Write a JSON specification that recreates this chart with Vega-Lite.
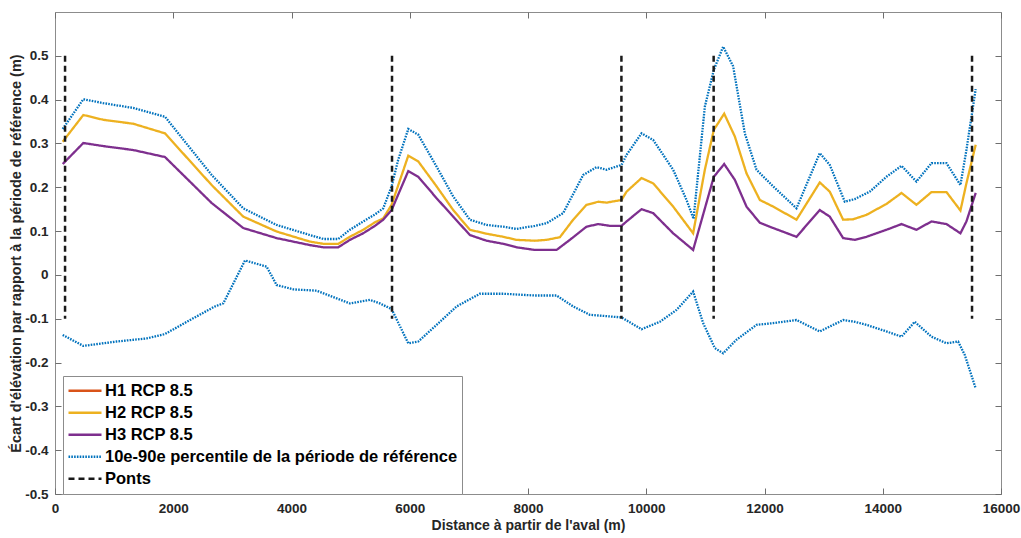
{
  "$schema": "https://vega.github.io/schema/vega-lite/v6.json",
  "autosize": {"type": "none"},
  "width": 946,
  "height": 482,
  "padding": {"left": 55, "top": 12, "right": 20, "bottom": 44},
  "background": "white",
  "config": {
    "view": {"stroke": "#8c8c8c", "strokeWidth": 1},
    "font": "Liberation Sans",
    "axis": {
      "grid": false,
      "domain": false,
      "tickColor": "#6e6e6e",
      "tickSize": -6,
      "tickWidth": 1,
      "labelFont": "Liberation Sans",
      "labelFontWeight": "bold",
      "labelFontSize": 13.5,
      "labelColor": "#262626",
      "titleFont": "Liberation Sans",
      "titleFontWeight": "bold",
      "titleColor": "#262626"
    }
  },
  "datasets": {
    "courbes": [
      {"serie": "H2 RCP 8.5", "groupe": "H2", "distance": 130, "ecart": 0.304},
      {"serie": "H2 RCP 8.5", "groupe": "H2", "distance": 479, "ecart": 0.365},
      {"serie": "H2 RCP 8.5", "groupe": "H2", "distance": 817, "ecart": 0.354},
      {"serie": "H2 RCP 8.5", "groupe": "H2", "distance": 1324, "ecart": 0.345},
      {"serie": "H2 RCP 8.5", "groupe": "H2", "distance": 1860, "ecart": 0.323},
      {"serie": "H2 RCP 8.5", "groupe": "H2", "distance": 2650, "ecart": 0.205},
      {"serie": "H2 RCP 8.5", "groupe": "H2", "distance": 3184, "ecart": 0.133},
      {"serie": "H2 RCP 8.5", "groupe": "H2", "distance": 3748, "ecart": 0.099},
      {"serie": "H2 RCP 8.5", "groupe": "H2", "distance": 4312, "ecart": 0.076},
      {"serie": "H2 RCP 8.5", "groupe": "H2", "distance": 4537, "ecart": 0.071},
      {"serie": "H2 RCP 8.5", "groupe": "H2", "distance": 4791, "ecart": 0.071},
      {"serie": "H2 RCP 8.5", "groupe": "H2", "distance": 4988, "ecart": 0.087},
      {"serie": "H2 RCP 8.5", "groupe": "H2", "distance": 5213, "ecart": 0.103},
      {"serie": "H2 RCP 8.5", "groupe": "H2", "distance": 5411, "ecart": 0.12},
      {"serie": "H2 RCP 8.5", "groupe": "H2", "distance": 5552, "ecart": 0.129},
      {"serie": "H2 RCP 8.5", "groupe": "H2", "distance": 5693, "ecart": 0.16},
      {"serie": "H2 RCP 8.5", "groupe": "H2", "distance": 5975, "ecart": 0.272},
      {"serie": "H2 RCP 8.5", "groupe": "H2", "distance": 6144, "ecart": 0.259},
      {"serie": "H2 RCP 8.5", "groupe": "H2", "distance": 6454, "ecart": 0.202},
      {"serie": "H2 RCP 8.5", "groupe": "H2", "distance": 6735, "ecart": 0.148},
      {"serie": "H2 RCP 8.5", "groupe": "H2", "distance": 7017, "ecart": 0.103},
      {"serie": "H2 RCP 8.5", "groupe": "H2", "distance": 7299, "ecart": 0.094},
      {"serie": "H2 RCP 8.5", "groupe": "H2", "distance": 7581, "ecart": 0.087},
      {"serie": "H2 RCP 8.5", "groupe": "H2", "distance": 7806, "ecart": 0.08},
      {"serie": "H2 RCP 8.5", "groupe": "H2", "distance": 8116, "ecart": 0.078},
      {"serie": "H2 RCP 8.5", "groupe": "H2", "distance": 8314, "ecart": 0.08},
      {"serie": "H2 RCP 8.5", "groupe": "H2", "distance": 8539, "ecart": 0.086},
      {"serie": "H2 RCP 8.5", "groupe": "H2", "distance": 8764, "ecart": 0.126},
      {"serie": "H2 RCP 8.5", "groupe": "H2", "distance": 8989, "ecart": 0.16},
      {"serie": "H2 RCP 8.5", "groupe": "H2", "distance": 9188, "ecart": 0.167},
      {"serie": "H2 RCP 8.5", "groupe": "H2", "distance": 9329, "ecart": 0.165},
      {"serie": "H2 RCP 8.5", "groupe": "H2", "distance": 9582, "ecart": 0.171},
      {"serie": "H2 RCP 8.5", "groupe": "H2", "distance": 9667, "ecart": 0.19},
      {"serie": "H2 RCP 8.5", "groupe": "H2", "distance": 9920, "ecart": 0.221},
      {"serie": "H2 RCP 8.5", "groupe": "H2", "distance": 10117, "ecart": 0.209},
      {"serie": "H2 RCP 8.5", "groupe": "H2", "distance": 10455, "ecart": 0.156},
      {"serie": "H2 RCP 8.5", "groupe": "H2", "distance": 10793, "ecart": 0.095},
      {"serie": "H2 RCP 8.5", "groupe": "H2", "distance": 10991, "ecart": 0.24},
      {"serie": "H2 RCP 8.5", "groupe": "H2", "distance": 11143, "ecart": 0.331},
      {"serie": "H2 RCP 8.5", "groupe": "H2", "distance": 11318, "ecart": 0.368},
      {"serie": "H2 RCP 8.5", "groupe": "H2", "distance": 11498, "ecart": 0.316},
      {"serie": "H2 RCP 8.5", "groupe": "H2", "distance": 11695, "ecart": 0.232},
      {"serie": "H2 RCP 8.5", "groupe": "H2", "distance": 11921, "ecart": 0.171},
      {"serie": "H2 RCP 8.5", "groupe": "H2", "distance": 12146, "ecart": 0.156},
      {"serie": "H2 RCP 8.5", "groupe": "H2", "distance": 12541, "ecart": 0.126},
      {"serie": "H2 RCP 8.5", "groupe": "H2", "distance": 12935, "ecart": 0.211},
      {"serie": "H2 RCP 8.5", "groupe": "H2", "distance": 13104, "ecart": 0.19},
      {"serie": "H2 RCP 8.5", "groupe": "H2", "distance": 13330, "ecart": 0.126},
      {"serie": "H2 RCP 8.5", "groupe": "H2", "distance": 13500, "ecart": 0.127},
      {"serie": "H2 RCP 8.5", "groupe": "H2", "distance": 13724, "ecart": 0.137},
      {"serie": "H2 RCP 8.5", "groupe": "H2", "distance": 14063, "ecart": 0.162},
      {"serie": "H2 RCP 8.5", "groupe": "H2", "distance": 14317, "ecart": 0.187},
      {"serie": "H2 RCP 8.5", "groupe": "H2", "distance": 14570, "ecart": 0.16},
      {"serie": "H2 RCP 8.5", "groupe": "H2", "distance": 14824, "ecart": 0.189},
      {"serie": "H2 RCP 8.5", "groupe": "H2", "distance": 15078, "ecart": 0.189},
      {"serie": "H2 RCP 8.5", "groupe": "H2", "distance": 15314, "ecart": 0.147},
      {"serie": "H2 RCP 8.5", "groupe": "H2", "distance": 15415, "ecart": 0.209},
      {"serie": "H2 RCP 8.5", "groupe": "H2", "distance": 15572, "ecart": 0.297},

      {"serie": "H3 RCP 8.5", "groupe": "H3", "distance": 130, "ecart": 0.253},
      {"serie": "H3 RCP 8.5", "groupe": "H3", "distance": 479, "ecart": 0.301},
      {"serie": "H3 RCP 8.5", "groupe": "H3", "distance": 817, "ecart": 0.294},
      {"serie": "H3 RCP 8.5", "groupe": "H3", "distance": 1324, "ecart": 0.285},
      {"serie": "H3 RCP 8.5", "groupe": "H3", "distance": 1860, "ecart": 0.269},
      {"serie": "H3 RCP 8.5", "groupe": "H3", "distance": 2650, "ecart": 0.164},
      {"serie": "H3 RCP 8.5", "groupe": "H3", "distance": 3184, "ecart": 0.107},
      {"serie": "H3 RCP 8.5", "groupe": "H3", "distance": 3748, "ecart": 0.084},
      {"serie": "H3 RCP 8.5", "groupe": "H3", "distance": 4312, "ecart": 0.068},
      {"serie": "H3 RCP 8.5", "groupe": "H3", "distance": 4537, "ecart": 0.063},
      {"serie": "H3 RCP 8.5", "groupe": "H3", "distance": 4791, "ecart": 0.063},
      {"serie": "H3 RCP 8.5", "groupe": "H3", "distance": 4988, "ecart": 0.08},
      {"serie": "H3 RCP 8.5", "groupe": "H3", "distance": 5213, "ecart": 0.095},
      {"serie": "H3 RCP 8.5", "groupe": "H3", "distance": 5411, "ecart": 0.112},
      {"serie": "H3 RCP 8.5", "groupe": "H3", "distance": 5552, "ecart": 0.126},
      {"serie": "H3 RCP 8.5", "groupe": "H3", "distance": 5693, "ecart": 0.148},
      {"serie": "H3 RCP 8.5", "groupe": "H3", "distance": 5975, "ecart": 0.237},
      {"serie": "H3 RCP 8.5", "groupe": "H3", "distance": 6144, "ecart": 0.224},
      {"serie": "H3 RCP 8.5", "groupe": "H3", "distance": 6454, "ecart": 0.175},
      {"serie": "H3 RCP 8.5", "groupe": "H3", "distance": 6735, "ecart": 0.133},
      {"serie": "H3 RCP 8.5", "groupe": "H3", "distance": 7017, "ecart": 0.091},
      {"serie": "H3 RCP 8.5", "groupe": "H3", "distance": 7299, "ecart": 0.078},
      {"serie": "H3 RCP 8.5", "groupe": "H3", "distance": 7581, "ecart": 0.071},
      {"serie": "H3 RCP 8.5", "groupe": "H3", "distance": 7806, "ecart": 0.063},
      {"serie": "H3 RCP 8.5", "groupe": "H3", "distance": 8116, "ecart": 0.057},
      {"serie": "H3 RCP 8.5", "groupe": "H3", "distance": 8483, "ecart": 0.057},
      {"serie": "H3 RCP 8.5", "groupe": "H3", "distance": 8708, "ecart": 0.08},
      {"serie": "H3 RCP 8.5", "groupe": "H3", "distance": 8989, "ecart": 0.11},
      {"serie": "H3 RCP 8.5", "groupe": "H3", "distance": 9188, "ecart": 0.116},
      {"serie": "H3 RCP 8.5", "groupe": "H3", "distance": 9385, "ecart": 0.112},
      {"serie": "H3 RCP 8.5", "groupe": "H3", "distance": 9582, "ecart": 0.112},
      {"serie": "H3 RCP 8.5", "groupe": "H3", "distance": 9667, "ecart": 0.122},
      {"serie": "H3 RCP 8.5", "groupe": "H3", "distance": 9920, "ecart": 0.15},
      {"serie": "H3 RCP 8.5", "groupe": "H3", "distance": 10117, "ecart": 0.141},
      {"serie": "H3 RCP 8.5", "groupe": "H3", "distance": 10455, "ecart": 0.095},
      {"serie": "H3 RCP 8.5", "groupe": "H3", "distance": 10793, "ecart": 0.057},
      {"serie": "H3 RCP 8.5", "groupe": "H3", "distance": 11143, "ecart": 0.224},
      {"serie": "H3 RCP 8.5", "groupe": "H3", "distance": 11318, "ecart": 0.253},
      {"serie": "H3 RCP 8.5", "groupe": "H3", "distance": 11498, "ecart": 0.217},
      {"serie": "H3 RCP 8.5", "groupe": "H3", "distance": 11695, "ecart": 0.156},
      {"serie": "H3 RCP 8.5", "groupe": "H3", "distance": 11921, "ecart": 0.119},
      {"serie": "H3 RCP 8.5", "groupe": "H3", "distance": 12146, "ecart": 0.107},
      {"serie": "H3 RCP 8.5", "groupe": "H3", "distance": 12541, "ecart": 0.087},
      {"serie": "H3 RCP 8.5", "groupe": "H3", "distance": 12935, "ecart": 0.148},
      {"serie": "H3 RCP 8.5", "groupe": "H3", "distance": 13104, "ecart": 0.133},
      {"serie": "H3 RCP 8.5", "groupe": "H3", "distance": 13330, "ecart": 0.084},
      {"serie": "H3 RCP 8.5", "groupe": "H3", "distance": 13527, "ecart": 0.08},
      {"serie": "H3 RCP 8.5", "groupe": "H3", "distance": 13724, "ecart": 0.087},
      {"serie": "H3 RCP 8.5", "groupe": "H3", "distance": 14063, "ecart": 0.103},
      {"serie": "H3 RCP 8.5", "groupe": "H3", "distance": 14317, "ecart": 0.116},
      {"serie": "H3 RCP 8.5", "groupe": "H3", "distance": 14570, "ecart": 0.103},
      {"serie": "H3 RCP 8.5", "groupe": "H3", "distance": 14824, "ecart": 0.122},
      {"serie": "H3 RCP 8.5", "groupe": "H3", "distance": 15078, "ecart": 0.116},
      {"serie": "H3 RCP 8.5", "groupe": "H3", "distance": 15314, "ecart": 0.095},
      {"serie": "H3 RCP 8.5", "groupe": "H3", "distance": 15415, "ecart": 0.122},
      {"serie": "H3 RCP 8.5", "groupe": "H3", "distance": 15572, "ecart": 0.187},

      {"serie": "10e-90e percentile de la période de référence", "groupe": "P90", "distance": 130, "ecart": 0.333},
      {"serie": "10e-90e percentile de la période de référence", "groupe": "P90", "distance": 479, "ecart": 0.401},
      {"serie": "10e-90e percentile de la période de référence", "groupe": "P90", "distance": 817, "ecart": 0.392},
      {"serie": "10e-90e percentile de la période de référence", "groupe": "P90", "distance": 1324, "ecart": 0.381},
      {"serie": "10e-90e percentile de la période de référence", "groupe": "P90", "distance": 1860, "ecart": 0.361},
      {"serie": "10e-90e percentile de la période de référence", "groupe": "P90", "distance": 2650, "ecart": 0.228},
      {"serie": "10e-90e percentile de la période de référence", "groupe": "P90", "distance": 3184, "ecart": 0.152},
      {"serie": "10e-90e percentile de la période de référence", "groupe": "P90", "distance": 3748, "ecart": 0.114},
      {"serie": "10e-90e percentile de la période de référence", "groupe": "P90", "distance": 4312, "ecart": 0.091},
      {"serie": "10e-90e percentile de la période de référence", "groupe": "P90", "distance": 4537, "ecart": 0.082},
      {"serie": "10e-90e percentile de la période de référence", "groupe": "P90", "distance": 4791, "ecart": 0.082},
      {"serie": "10e-90e percentile de la période de référence", "groupe": "P90", "distance": 4988, "ecart": 0.103},
      {"serie": "10e-90e percentile de la période de référence", "groupe": "P90", "distance": 5213, "ecart": 0.122},
      {"serie": "10e-90e percentile de la période de référence", "groupe": "P90", "distance": 5411, "ecart": 0.138},
      {"serie": "10e-90e percentile de la période de référence", "groupe": "P90", "distance": 5552, "ecart": 0.152},
      {"serie": "10e-90e percentile de la période de référence", "groupe": "P90", "distance": 5693, "ecart": 0.202},
      {"serie": "10e-90e percentile de la période de référence", "groupe": "P90", "distance": 5805, "ecart": 0.263},
      {"serie": "10e-90e percentile de la période de référence", "groupe": "P90", "distance": 5975, "ecart": 0.333},
      {"serie": "10e-90e percentile de la période de référence", "groupe": "P90", "distance": 6144, "ecart": 0.32},
      {"serie": "10e-90e percentile de la période de référence", "groupe": "P90", "distance": 6454, "ecart": 0.247},
      {"serie": "10e-90e percentile de la période de référence", "groupe": "P90", "distance": 6735, "ecart": 0.179},
      {"serie": "10e-90e percentile de la période de référence", "groupe": "P90", "distance": 7017, "ecart": 0.126},
      {"serie": "10e-90e percentile de la période de référence", "groupe": "P90", "distance": 7299, "ecart": 0.114},
      {"serie": "10e-90e percentile de la période de référence", "groupe": "P90", "distance": 7581, "ecart": 0.11},
      {"serie": "10e-90e percentile de la période de référence", "groupe": "P90", "distance": 7806, "ecart": 0.105},
      {"serie": "10e-90e percentile de la période de référence", "groupe": "P90", "distance": 8116, "ecart": 0.112},
      {"serie": "10e-90e percentile de la période de référence", "groupe": "P90", "distance": 8314, "ecart": 0.118},
      {"serie": "10e-90e percentile de la période de référence", "groupe": "P90", "distance": 8595, "ecart": 0.141},
      {"serie": "10e-90e percentile de la période de référence", "groupe": "P90", "distance": 8933, "ecart": 0.228},
      {"serie": "10e-90e percentile de la période de référence", "groupe": "P90", "distance": 9160, "ecart": 0.246},
      {"serie": "10e-90e percentile de la période de référence", "groupe": "P90", "distance": 9329, "ecart": 0.24},
      {"serie": "10e-90e percentile de la période de référence", "groupe": "P90", "distance": 9582, "ecart": 0.251},
      {"serie": "10e-90e percentile de la période de référence", "groupe": "P90", "distance": 9667, "ecart": 0.274},
      {"serie": "10e-90e percentile de la période de référence", "groupe": "P90", "distance": 9920, "ecart": 0.323},
      {"serie": "10e-90e percentile de la période de référence", "groupe": "P90", "distance": 10117, "ecart": 0.308},
      {"serie": "10e-90e percentile de la période de référence", "groupe": "P90", "distance": 10455, "ecart": 0.24},
      {"serie": "10e-90e percentile de la période de référence", "groupe": "P90", "distance": 10681, "ecart": 0.171},
      {"serie": "10e-90e percentile de la période de référence", "groupe": "P90", "distance": 10800, "ecart": 0.128},
      {"serie": "10e-90e percentile de la période de référence", "groupe": "P90", "distance": 10991, "ecart": 0.384},
      {"serie": "10e-90e percentile de la période de référence", "groupe": "P90", "distance": 11143, "ecart": 0.468},
      {"serie": "10e-90e percentile de la période de référence", "groupe": "P90", "distance": 11301, "ecart": 0.521},
      {"serie": "10e-90e percentile de la période de référence", "groupe": "P90", "distance": 11470, "ecart": 0.476},
      {"serie": "10e-90e percentile de la période de référence", "groupe": "P90", "distance": 11667, "ecart": 0.323},
      {"serie": "10e-90e percentile de la période de référence", "groupe": "P90", "distance": 11865, "ecart": 0.24},
      {"serie": "10e-90e percentile de la période de référence", "groupe": "P90", "distance": 12146, "ecart": 0.202},
      {"serie": "10e-90e percentile de la période de référence", "groupe": "P90", "distance": 12541, "ecart": 0.152},
      {"serie": "10e-90e percentile de la période de référence", "groupe": "P90", "distance": 12935, "ecart": 0.278},
      {"serie": "10e-90e percentile de la période de référence", "groupe": "P90", "distance": 13104, "ecart": 0.251},
      {"serie": "10e-90e percentile de la période de référence", "groupe": "P90", "distance": 13358, "ecart": 0.167},
      {"serie": "10e-90e percentile de la période de référence", "groupe": "P90", "distance": 13527, "ecart": 0.173},
      {"serie": "10e-90e percentile de la période de référence", "groupe": "P90", "distance": 13781, "ecart": 0.19},
      {"serie": "10e-90e percentile de la période de référence", "groupe": "P90", "distance": 14063, "ecart": 0.224},
      {"serie": "10e-90e percentile de la période de référence", "groupe": "P90", "distance": 14317, "ecart": 0.249},
      {"serie": "10e-90e percentile de la période de référence", "groupe": "P90", "distance": 14570, "ecart": 0.213},
      {"serie": "10e-90e percentile de la période de référence", "groupe": "P90", "distance": 14824, "ecart": 0.255},
      {"serie": "10e-90e percentile de la période de référence", "groupe": "P90", "distance": 15078, "ecart": 0.255},
      {"serie": "10e-90e percentile de la période de référence", "groupe": "P90", "distance": 15314, "ecart": 0.205},
      {"serie": "10e-90e percentile de la période de référence", "groupe": "P90", "distance": 15415, "ecart": 0.285},
      {"serie": "10e-90e percentile de la période de référence", "groupe": "P90", "distance": 15572, "ecart": 0.424},

      {"serie": "10e-90e percentile de la période de référence", "groupe": "P10", "distance": 130, "ecart": -0.137},
      {"serie": "10e-90e percentile de la période de référence", "groupe": "P10", "distance": 479, "ecart": -0.162},
      {"serie": "10e-90e percentile de la période de référence", "groupe": "P10", "distance": 1043, "ecart": -0.152},
      {"serie": "10e-90e percentile de la période de référence", "groupe": "P10", "distance": 1550, "ecart": -0.145},
      {"serie": "10e-90e percentile de la période de référence", "groupe": "P10", "distance": 1860, "ecart": -0.135},
      {"serie": "10e-90e percentile de la période de référence", "groupe": "P10", "distance": 2283, "ecart": -0.103},
      {"serie": "10e-90e percentile de la période de référence", "groupe": "P10", "distance": 2705, "ecart": -0.072},
      {"serie": "10e-90e percentile de la période de référence", "groupe": "P10", "distance": 2846, "ecart": -0.065},
      {"serie": "10e-90e percentile de la période de référence", "groupe": "P10", "distance": 3213, "ecart": 0.033},
      {"serie": "10e-90e percentile de la période de référence", "groupe": "P10", "distance": 3579, "ecart": 0.019},
      {"serie": "10e-90e percentile de la période de référence", "groupe": "P10", "distance": 3748, "ecart": -0.023},
      {"serie": "10e-90e percentile de la période de référence", "groupe": "P10", "distance": 4030, "ecart": -0.033},
      {"serie": "10e-90e percentile de la période de référence", "groupe": "P10", "distance": 4425, "ecart": -0.036},
      {"serie": "10e-90e percentile de la période de référence", "groupe": "P10", "distance": 4988, "ecart": -0.065},
      {"serie": "10e-90e percentile de la période de référence", "groupe": "P10", "distance": 5326, "ecart": -0.057},
      {"serie": "10e-90e percentile de la période de référence", "groupe": "P10", "distance": 5495, "ecart": -0.065},
      {"serie": "10e-90e percentile de la période de référence", "groupe": "P10", "distance": 5693, "ecart": -0.078},
      {"serie": "10e-90e percentile de la période de référence", "groupe": "P10", "distance": 5975, "ecart": -0.156},
      {"serie": "10e-90e percentile de la période de référence", "groupe": "P10", "distance": 6144, "ecart": -0.152},
      {"serie": "10e-90e percentile de la période de référence", "groupe": "P10", "distance": 6454, "ecart": -0.114},
      {"serie": "10e-90e percentile de la période de référence", "groupe": "P10", "distance": 6792, "ecart": -0.072},
      {"serie": "10e-90e percentile de la période de référence", "groupe": "P10", "distance": 7186, "ecart": -0.043},
      {"serie": "10e-90e percentile de la période de référence", "groupe": "P10", "distance": 7581, "ecart": -0.043},
      {"serie": "10e-90e percentile de la période de référence", "groupe": "P10", "distance": 8116, "ecart": -0.047},
      {"serie": "10e-90e percentile de la période de référence", "groupe": "P10", "distance": 8483, "ecart": -0.047},
      {"serie": "10e-90e percentile de la période de référence", "groupe": "P10", "distance": 8764, "ecart": -0.072},
      {"serie": "10e-90e percentile de la période de référence", "groupe": "P10", "distance": 9046, "ecart": -0.091},
      {"serie": "10e-90e percentile de la période de référence", "groupe": "P10", "distance": 9582, "ecart": -0.097},
      {"serie": "10e-90e percentile de la période de référence", "groupe": "P10", "distance": 9920, "ecart": -0.124},
      {"serie": "10e-90e percentile de la période de référence", "groupe": "P10", "distance": 10230, "ecart": -0.107},
      {"serie": "10e-90e percentile de la période de référence", "groupe": "P10", "distance": 10512, "ecart": -0.08},
      {"serie": "10e-90e percentile de la période de référence", "groupe": "P10", "distance": 10793, "ecart": -0.038},
      {"serie": "10e-90e percentile de la période de référence", "groupe": "P10", "distance": 10962, "ecart": -0.11},
      {"serie": "10e-90e percentile de la période de référence", "groupe": "P10", "distance": 11160, "ecart": -0.167},
      {"serie": "10e-90e percentile de la période de référence", "groupe": "P10", "distance": 11301, "ecart": -0.179},
      {"serie": "10e-90e percentile de la période de référence", "groupe": "P10", "distance": 11526, "ecart": -0.148},
      {"serie": "10e-90e percentile de la période de référence", "groupe": "P10", "distance": 11865, "ecart": -0.114},
      {"serie": "10e-90e percentile de la période de référence", "groupe": "P10", "distance": 12146, "ecart": -0.11},
      {"serie": "10e-90e percentile de la période de référence", "groupe": "P10", "distance": 12541, "ecart": -0.103},
      {"serie": "10e-90e percentile de la période de référence", "groupe": "P10", "distance": 12935, "ecart": -0.129},
      {"serie": "10e-90e percentile de la période de référence", "groupe": "P10", "distance": 13330, "ecart": -0.103},
      {"serie": "10e-90e percentile de la période de référence", "groupe": "P10", "distance": 13527, "ecart": -0.107},
      {"serie": "10e-90e percentile de la période de référence", "groupe": "P10", "distance": 13724, "ecart": -0.114},
      {"serie": "10e-90e percentile de la période de référence", "groupe": "P10", "distance": 14063, "ecart": -0.129},
      {"serie": "10e-90e percentile de la période de référence", "groupe": "P10", "distance": 14317, "ecart": -0.141},
      {"serie": "10e-90e percentile de la période de référence", "groupe": "P10", "distance": 14541, "ecart": -0.107},
      {"serie": "10e-90e percentile de la période de référence", "groupe": "P10", "distance": 14824, "ecart": -0.141},
      {"serie": "10e-90e percentile de la période de référence", "groupe": "P10", "distance": 15078, "ecart": -0.156},
      {"serie": "10e-90e percentile de la période de référence", "groupe": "P10", "distance": 15275, "ecart": -0.152},
      {"serie": "10e-90e percentile de la période de référence", "groupe": "P10", "distance": 15388, "ecart": -0.183},
      {"serie": "10e-90e percentile de la période de référence", "groupe": "P10", "distance": 15572, "ecart": -0.259}
    ],
    "ponts": [
      {"serie": "Ponts", "groupe": "P1", "distance": 170, "ecart": 0.5},
      {"serie": "Ponts", "groupe": "P1", "distance": 170, "ecart": -0.1},
      {"serie": "Ponts", "groupe": "P2", "distance": 5700, "ecart": 0.5},
      {"serie": "Ponts", "groupe": "P2", "distance": 5700, "ecart": -0.1},
      {"serie": "Ponts", "groupe": "P3", "distance": 9580, "ecart": 0.5},
      {"serie": "Ponts", "groupe": "P3", "distance": 9580, "ecart": -0.1},
      {"serie": "Ponts", "groupe": "P4", "distance": 11140, "ecart": 0.5},
      {"serie": "Ponts", "groupe": "P4", "distance": 11140, "ecart": -0.1},
      {"serie": "Ponts", "groupe": "P5", "distance": 15510, "ecart": 0.5},
      {"serie": "Ponts", "groupe": "P5", "distance": 15510, "ecart": -0.1}
    ]
  },
  "resolve": {"axis": {"x": "independent", "y": "independent"}},
  "layer": [
    {
      "data": {"name": "courbes"},
      "mark": {"type": "line", "strokeWidth": 2.3, "clip": true},
      "encoding": {
        "x": {
          "field": "distance", "type": "quantitative",
          "scale": {"domain": [0, 16000], "nice": false, "zero": false},
          "axis": {"orient": "bottom", "values": [0, 2000, 4000, 6000, 8000, 10000, 12000, 14000, 16000], "format": "d", "labelPadding": 13, "labelFlush": false, "title": "Distance à partir de l'aval (m)", "titleFontSize": 14, "titlePadding": 4}
        },
        "y": {
          "field": "ecart", "type": "quantitative",
          "scale": {"domain": [-0.5, 0.6], "nice": false, "zero": false},
          "axis": {"orient": "left", "values": [-0.5, -0.4, -0.3, -0.2, -0.1, 0, 0.1, 0.2, 0.3, 0.4, 0.5], "labelExpr": "datum.value == 0 ? '0' : toString(round(datum.value * 10) / 10)", "labelPadding": 13, "title": "Écart d'élévation par rapport à la période de référence (m)", "titleFontSize": 14.5, "titlePadding": 1}
        },
        "color": {
          "field": "serie", "type": "nominal",
          "scale": {"domain": ["H1 RCP 8.5", "H2 RCP 8.5", "H3 RCP 8.5", "10e-90e percentile de la période de référence", "Ponts"], "range": ["#D95319", "#EDB120", "#7E2F8E", "#0072BD", "#1a1a1a"]},
          "legend": {"orient": "none", "legendX": 8, "legendY": 364, "title": null, "symbolType": "stroke", "symbolSize": 1089, "symbolStrokeWidth": 2.5, "clipHeight": 21.6, "rowPadding": 0, "labelOffset": 2, "padding": 4, "labelFontSize": 16.5, "labelFontWeight": "bold", "labelFont": "Liberation Sans", "labelColor": "#000000", "labelLimit": 500, "fillColor": "white", "strokeColor": "#8c8c8c"}
        },
        "strokeDash": {
          "field": "serie", "type": "nominal",
          "scale": {"domain": ["H1 RCP 8.5", "H2 RCP 8.5", "H3 RCP 8.5", "10e-90e percentile de la période de référence", "Ponts"], "range": [[1, 0], [1, 0], [1, 0], [1.6, 1.2], [6, 4]]},
          "legend": {"orient": "none", "legendX": 8, "legendY": 364, "title": null, "symbolType": "stroke", "symbolSize": 1089, "symbolStrokeWidth": 2.5, "clipHeight": 21.6, "rowPadding": 0, "labelOffset": 2, "padding": 4, "labelFontSize": 16.5, "labelFontWeight": "bold", "labelFont": "Liberation Sans", "labelColor": "#000000", "labelLimit": 500, "fillColor": "white", "strokeColor": "#8c8c8c"}
        },
        "detail": {"field": "groupe", "type": "nominal"}
      }
    },
    {
      "data": {"name": "ponts"},
      "mark": {"type": "line", "strokeWidth": 2.5},
      "encoding": {
        "x": {
          "field": "distance", "type": "quantitative",
          "axis": {"orient": "top", "values": [0, 2000, 4000, 6000, 8000, 10000, 12000, 14000, 16000], "labels": false, "title": null}
        },
        "y": {
          "field": "ecart", "type": "quantitative",
          "axis": {"orient": "right", "values": [-0.5, -0.4, -0.3, -0.2, -0.1, 0, 0.1, 0.2, 0.3, 0.4, 0.5], "labels": false, "title": null}
        },
        "color": {"field": "serie", "type": "nominal"},
        "strokeDash": {"field": "serie", "type": "nominal"},
        "detail": {"field": "groupe", "type": "nominal"}
      }
    }
  ]
}
